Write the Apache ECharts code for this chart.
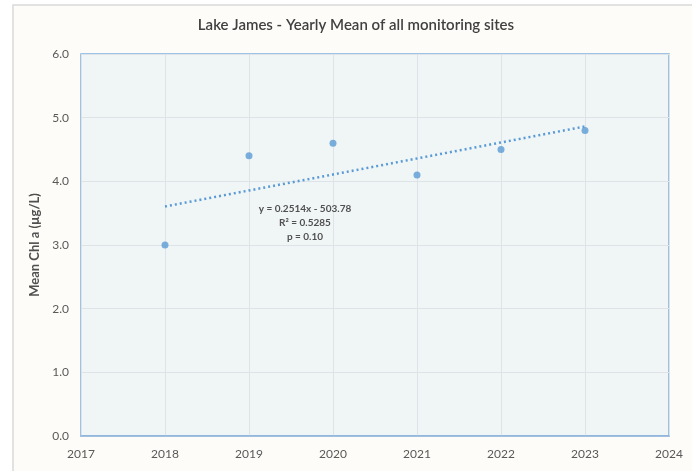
<!DOCTYPE html>
<html><head><meta charset="utf-8">
<script src="https://cdn.jsdelivr.net/npm/echarts@6/dist/echarts.min.js"></script>
<style>html,body{margin:0;padding:0;background:#fff;}#c{width:692px;height:471px;}</style>
</head><body><div id="c"></div>
<script>
const years = [2018, 2019, 2020, 2021, 2022, 2023];
const meanChl = [3.0, 4.4, 4.6, 4.1, 4.5, 4.8];
const eqLines = ['y = 0.2514x - 503.78', 'R² = 0.5285', 'p = 0.10'];
const titleText = 'Lake James - Yearly Mean of all monitoring sites';
const yName = 'Mean Chl a (µg/L)';

// least-squares trendline from the data
const n = years.length;
const mx = years.reduce((a,b)=>a+b,0)/n, my = meanChl.reduce((a,b)=>a+b,0)/n;
let sxy=0,sxx=0; for(let i=0;i<n;i++){sxy+=(years[i]-mx)*(meanChl[i]-my);sxx+=(years[i]-mx)**2;}
const slope=sxy/sxx, icpt=my-slope*mx;
const trend=[[years[0],icpt+slope*years[0]],[years[n-1],icpt+slope*years[n-1]]];

const font='Lato';
const chart = echarts.init(document.getElementById('c'));
chart.setOption({
  backgroundColor:'#fff',
  animation:false,
  graphic:[
    {type:'rect',z:-10,shape:{x:13,y:5,width:700,height:500},style:{fill:'#fdfcf9',stroke:'#d9d9d9',lineWidth:1.5}},
    {type:'text',x:356,y:18,z:10,style:{text:titleText,font:'600 15px '+font,fill:'#404040',align:'center'}},
    {type:'text',x:305,y:202,z:10,style:{text:eqLines.join('\n'),font:'bold 10px '+font,fill:'#505050',align:'center',lineHeight:14}}
  ],
  grid:{left:81,right:23,top:54,bottom:35,show:true,backgroundColor:'#f0f5f6',borderColor:'#7fb0e0',borderWidth:1.5},
  xAxis:{type:'value',min:2017,max:2024,interval:1,
    axisLine:{show:true,lineStyle:{color:'#8fb4dc',width:1.5}},axisTick:{show:false},
    axisLabel:{color:'#595959',fontSize:12,fontFamily:font,margin:12,formatter:v=>String(v)},
    splitLine:{show:true,lineStyle:{color:'#dde3e6',width:1}}},
  yAxis:{type:'value',min:0,max:6,interval:1,
    name:yName,nameLocation:'middle',nameGap:36,
    nameTextStyle:{color:'#505050',fontSize:13,fontWeight:'bold',fontFamily:font},
    axisLine:{show:false},axisTick:{show:false},
    axisLabel:{color:'#595959',fontSize:12,fontFamily:font,margin:12,formatter:v=>v.toFixed(1)},
    splitLine:{show:true,lineStyle:{color:'#dde3e6',width:1}}},
  series:[
    {type:'line',data:trend,symbol:'none',lineStyle:{color:'#5b9bd5',width:2.5,type:[2,3]},z:2},
    {type:'scatter',data:years.map((y,i)=>[y,meanChl[i]]),symbolSize:7,itemStyle:{color:'#5b9bd5'},z:3}
  ]
});
</script></body></html>
